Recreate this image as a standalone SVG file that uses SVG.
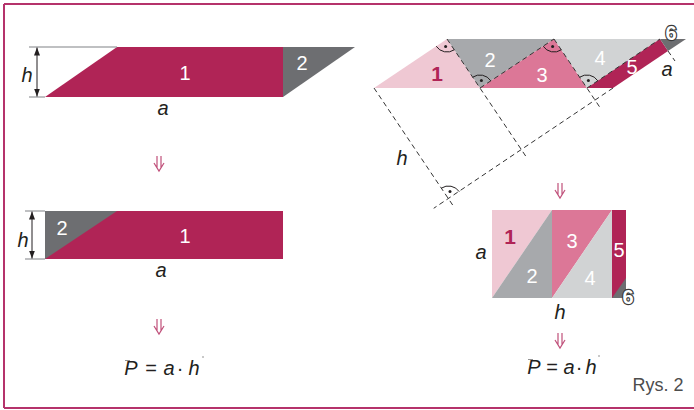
<svg xmlns="http://www.w3.org/2000/svg" width="694" height="410" viewBox="0 0 694 410">
<defs>
<style>
.t{font-family:"Liberation Sans",Arial,sans-serif;font-size:20px;text-anchor:middle}
.w{fill:#fff}
.k{fill:#231f20}
.i{font-style:italic}
.cr{fill:#b02456}
.gd{fill:#6d6e71}
.gm{fill:#a7a9ac}
.gl{fill:#d1d3d4}
.pl{fill:#efc8d3}
.pm{fill:#dc7797}
.ext{stroke:#808285;stroke-width:1.2;fill:none}
.dim{stroke:#231f20;stroke-width:1;fill:none}
.dash{stroke:#333;stroke-width:1;fill:none;stroke-dasharray:5 3.5}
.arc{stroke:#231f20;stroke-width:1;fill:none}
.dn{stroke:#c0507a;stroke-width:1.2;fill:none}
.six{fill:#fff;stroke:#3a3a3a;stroke-width:2.4;paint-order:stroke;font-weight:bold}
.mk{stroke:#777;stroke-width:0.8}
</style>
<marker id="ah" viewBox="0 0 8 8" refX="8" refY="4" markerWidth="8" markerHeight="8" markerUnits="userSpaceOnUse" orient="auto">
<path d="M0,1 L8,4 L0,7 Z" fill="#231f20"/>
</marker>
</defs>

<path d="M4,4 H700 M4,4 V408 M4,408 H700" stroke="#b5336b" stroke-width="2" fill="none"/>

<g id="para-left">
<polygon class="cr" points="45,97 117,47 283,47 283,97"/>
<polygon class="gd" points="283,47 355,47 283,97"/>
<text class="t w" x="185" y="80">1</text>
<text class="t w" x="302" y="70">2</text>
<text class="t k i" x="163" y="115">a</text>
<text class="t k i" x="27" y="82">h</text>
</g>

<g id="rect-left">
<rect class="cr" x="45" y="211" width="238" height="48"/>
<polygon class="gd" points="45,211 117,211 45,259"/>
<text class="t w" x="62" y="235">2</text>
<text class="t w" x="185" y="243">1</text>
<text class="t k i" x="161" y="277">a</text>
<text class="t k i" x="23" y="247">h</text>
</g>

<g id="formula-left">
<text class="t k i" x="131" y="375">P</text>
<text class="t k" x="151" y="375">=</text>
<text class="t k i" x="169" y="375">a</text>
<text class="t k" x="180" y="375">·</text>
<text class="t k i" x="194" y="375">h</text>
<path class="mk" d="M125,360.5 H130 M203,356 V358"/>
</g>

<g id="para-right">
<polygon class="pl" points="374,88 447,39 480,88"/>
<polygon class="gm" points="447,39 554,39 480,88"/>
<polygon class="pm" points="480,88 554,39 587,88"/>
<polygon class="gl" points="554,39 660,39 587,88"/>
<polygon class="cr" points="587,88 660,39 668,51 613,88"/>
<polygon class="gd" points="660,39 686,39 668,51"/>
<text class="t cr" x="437" y="81" style="font-weight:bold;font-size:21px">1</text>
<text class="t w" x="490" y="67">2</text>
<text class="t w" x="542" y="82">3</text>
<text class="t w" x="600" y="65">4</text>
<text class="t w" x="632" y="74">5</text>
<text class="t six" x="671" y="40">6</text>
<text class="t k i" x="667" y="76">a</text>
<text class="t k i" x="402" y="165">h</text>
</g>

<g id="rect-right">
<polygon class="pl" points="492,210 552,210 492,298"/>
<polygon class="gm" points="552,210 552,298 492,298"/>
<polygon class="pm" points="552,210 612,210 552,298"/>
<polygon class="gl" points="612,210 612,298 552,298"/>
<rect class="cr" x="612" y="210" width="14" height="88"/>
<polygon class="gd" points="612,298 626,298 626,278"/>
<text class="t cr" x="510" y="244" style="font-weight:bold;font-size:21px">1</text>
<text class="t w" x="532" y="283">2</text>
<text class="t w" x="572" y="248">3</text>
<text class="t w" x="590" y="285">4</text>
<text class="t w" x="619" y="257">5</text>
<text class="t six" x="628" y="304">6</text>
<text class="t k i" x="481" y="259">a</text>
<text class="t k i" x="560" y="319">h</text>
</g>

<g id="formula-right">
<text class="t k i" x="534" y="374">P</text>
<text class="t k" x="552" y="374">=</text>
<text class="t k i" x="569" y="374">a</text>
<text class="t k" x="579" y="374">·</text>
<text class="t k i" x="591" y="374">h</text>
<path class="mk" d="M528,359.5 H533 M599,355 V357"/>
</g>

<g id="caption">
<text x="658" y="391" style="font-family:'Liberation Sans',Arial,sans-serif;font-size:18px;fill:#4d4d4d;text-anchor:middle">Rys. 2</text>
</g>

<g id="connectors">
<path class="ext" d="M29,47 H117 M29,97 H45"/>
<path class="dim" d="M37,72 L37,47.5" marker-end="url(#ah)"/>
<path class="dim" d="M37,72 L37,96.5" marker-end="url(#ah)"/>
<path class="ext" d="M25,211 H45 M25,259 H45"/>
<path class="dim" d="M32,235 L32,211.5" marker-end="url(#ah)"/>
<path class="dim" d="M32,235 L32,258.5" marker-end="url(#ah)"/>

<path class="dn" d="M157,156 V168 M161,156 V168 M154,163 L159,171 L164,163"/>
<path class="dn" d="M157,319 V331 M161,319 V331 M154,326 L159,334 L164,326"/>
<path class="dn" d="M558,183 V195 M562,183 V195 M555,190 L560,198 L565,190"/>
<path class="dn" d="M558,333 V345 M562,333 V345 M555,340 L560,348 L565,340"/>

<path class="dash" d="M374,88 L454,207"/>
<path class="dash" d="M447,39 L527,158"/>
<path class="dash" d="M554,39 L601,109"/>
<path class="dash" d="M613,88 L433.7,208.3"/>
<path class="dash" d="M480,88 L554,39"/>
<path class="dash" d="M587,88 L660,39"/>
<path class="dash" d="M668,51 L675,61"/>

<path class="arc" d="M436.2,46.2 A13,13 0 0 0 454.3,49.8"/>
<circle cx="445.6" cy="46.4" r="1.5" fill="#231f20"/>
<path class="arc" d="M472.7,77.2 A13,13 0 0 1 490.8,80.8"/>
<circle cx="481.4" cy="80.6" r="1.5" fill="#231f20"/>
<path class="arc" d="M543.2,46.2 A13,13 0 0 0 561.3,49.8"/>
<circle cx="552.6" cy="46.4" r="1.5" fill="#231f20"/>
<path class="arc" d="M579.7,77.2 A13,13 0 0 1 597.8,80.8"/>
<circle cx="588.4" cy="80.6" r="1.5" fill="#231f20"/>
<path class="arc" d="M441.3,188.2 A13,13 0 0 1 459.3,191.7"/>
<circle cx="450" cy="191.6" r="1.5" fill="#231f20"/>
</g>
</svg>
